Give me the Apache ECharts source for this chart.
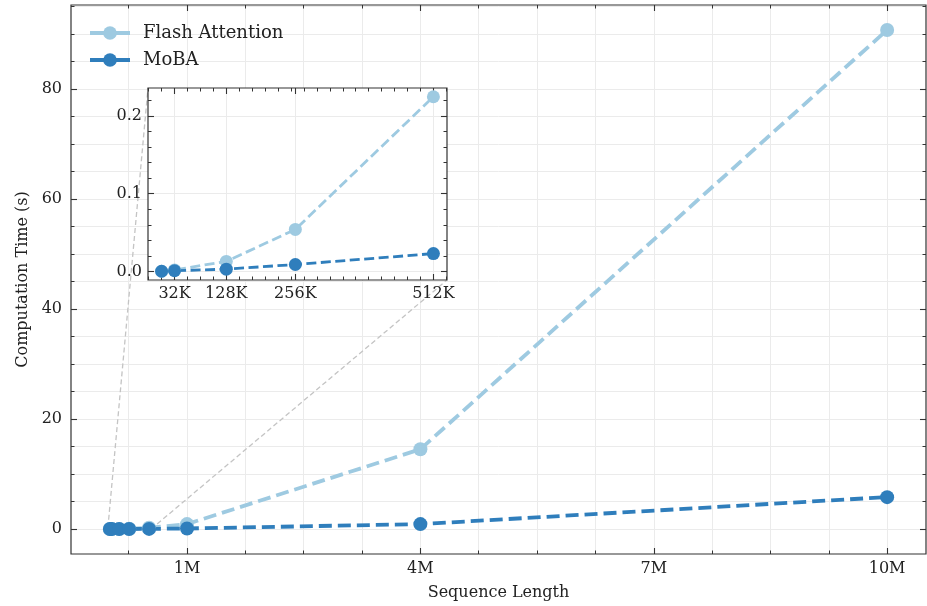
<!DOCTYPE html>
<html>
<head>
<meta charset="utf-8">
<script src="https://cdn.jsdelivr.net/npm/echarts@6/dist/echarts.min.js"></script>
<style>
  html, body { margin: 0; padding: 0; background: #fff; }
  #chart { width: 927px; height: 606px; }
</style>
</head>
<body>
<div id="chart"></div>
<script>
// data
var seqLen = [8e3, 32e3, 128e3, 256e3, 512e3, 1e6, 4e6, 10e6];
var flashTime = [0.0003, 0.002, 0.013, 0.054, 0.2245, 0.9, 14.5, 90.7];
var mobaTime = [0.0003, 0.001, 0.003, 0.009, 0.023, 0.1, 0.9, 5.8];
var insetCount = 5; // inset shows 8K .. 512K

// tick labels
var mainXTicks = [1e6, 4e6, 7e6, 10e6];
var mainXLabels = ['1M', '4M', '7M', '10M'];
var mainYTicks = [0, 20, 40, 60, 80];
var mainYLabels = ['0', '20', '40', '60', '80'];
var insetXTicks = [32e3, 128e3, 256e3, 512e3];
var insetXLabels = ['32K', '128K', '256K', '512K'];
var insetYTicks = [0, 0.1, 0.2];
var insetYLabels = ['0.0', '0.1', '0.2'];

var FONT = 'DejaVu Serif';
var flashColor = '#9ecae1';
var mobaColor = '#2f7ebc';

function pairs(xs, ys, n) {
    var out = [];
    for (var i = 0; i < n; i++) out.push([xs[i], ys[i]]);
    return out;
}

// padded range like matplotlib's 5% margins
function padRange(vals) {
    var lo = Math.min.apply(null, vals), hi = Math.max.apply(null, vals);
    var m = (hi - lo) * 0.05;
    return [lo - m, hi + m];
}

// minor tick values: every step from start, inside [min,max]
function stepTicks(start, step, min, max) {
    var out = [];
    var k = Math.ceil((min - start) / step);
    for (var v = start + k * step; v <= max + 1e-9; v += step) out.push(+v.toPrecision(10));
    return out;
}

function labelFor(ticks, labels) {
    return function (v) {
        for (var i = 0; i < ticks.length; i++) {
            if (Math.abs(ticks[i] - v) < 1e-9 * Math.max(1, Math.abs(v))) return labels[i];
        }
        return '';
    };
}

// four axes per dim: major+minor on both sides (box style, ticks inward)
function axisSet(dim, gridIndex, range, majors, minors, fmt, opts) {
    var sides = dim === 'x' ? ['bottom', 'top'] : ['left', 'right'];
    var list = [];
    sides.forEach(function (side, s) {
        list.push({
            type: 'value', gridIndex: gridIndex, position: side,
            min: range[0], max: range[1], z: opts.z,
            name: s === 0 ? opts.name : '',
            nameLocation: 'middle', nameGap: opts.nameGap,
            nameTextStyle: {fontFamily: FONT, fontSize: 16, color: '#222'},
            axisLine: {show: false, onZero: false},
            axisTick: {show: true, inside: true, length: 6, customValues: majors,
                lineStyle: {color: '#333', width: 1.1}},
            axisLabel: {show: s === 0, customValues: majors, formatter: fmt,
                margin: opts.margin, fontFamily: FONT, fontSize: 16, color: '#222'},
            splitLine: {show: s === 0 && !opts.minorGrid,
                lineStyle: {color: '#ebebeb', width: 1}}
        });
        list.push({
            type: 'value', gridIndex: gridIndex, position: side,
            min: range[0], max: range[1], z: opts.z,
            axisLine: {show: false, onZero: false},
            axisTick: {show: true, inside: true, length: 3.5, customValues: minors,
                lineStyle: {color: '#333', width: 1}},
            axisLabel: {show: false},
            splitLine: {show: s === 0 && opts.minorGrid,
                lineStyle: {color: '#ebebeb', width: 1}}
        });
    });
    return list;
}

var allY = flashTime.concat(mobaTime);
var mainXR = padRange(seqLen);
var mainYR = padRange(allY);
var insetXR = padRange(seqLen.slice(0, insetCount));
var insetYR = padRange(flashTime.slice(0, insetCount).concat(mobaTime.slice(0, insetCount)));

var mainXMinor = stepTicks(1e6, 0.75e6, mainXR[0], mainXR[1]);
var mainYMinor = stepTicks(0, 5, mainYR[0], mainYR[1]);
var insetXMinor = stepTicks(32e3, 24e3, insetXR[0], insetXR[1]);
var insetYMinor = stepTicks(0, 0.02, insetYR[0], insetYR[1]);

var xAxes = axisSet('x', 0, mainXR, mainXTicks, mainXMinor, labelFor(mainXTicks, mainXLabels),
    {z: 1, name: 'Sequence Length', nameGap: 31, margin: 7, minorGrid: true})
    .concat(axisSet('x', 1, insetXR, insetXTicks, insetXMinor, labelFor(insetXTicks, insetXLabels),
    {z: 6, name: '', nameGap: 20, margin: 6, minorGrid: false}));
var yAxes = axisSet('y', 0, mainYR, mainYTicks, mainYMinor, labelFor(mainYTicks, mainYLabels),
    {z: 1, name: 'Computation Time (s)', nameGap: 38, margin: 9, minorGrid: true})
    .concat(axisSet('y', 1, insetYR, insetYTicks, insetYMinor, labelFor(insetYTicks, insetYLabels),
    {z: 6, name: '', nameGap: 20, margin: 6, minorGrid: false}));

function lineSeries(name, color, data, xi, yi, big) {
    return {
        name: name, type: 'line', xAxisIndex: xi, yAxisIndex: yi,
        data: data, color: color, symbol: 'circle',
        symbolSize: big ? 14 : 13, z: big ? 3 : 8,
        lineStyle: {width: big ? 3.8 : 2.8, type: big ? [13, 6] : [10, 4.5], color: color},
        itemStyle: {color: color},
        emphasis: {disabled: true},
        animation: false
    };
}

var option = {
    animation: false,
    backgroundColor: '#fff',
    grid: [
        {left: 71, right: 1, top: 5, bottom: 52, show: true, borderColor: '#333', borderWidth: 1.2,
            backgroundColor: 'transparent', z: 0},
        {left: 148, right: 480, top: 88, bottom: 326, show: true, borderColor: '#333', borderWidth: 1.2,
            backgroundColor: '#fff', z: 5}
    ],
    legend: {
        orient: 'vertical', left: 83, top: 19, itemWidth: 40, itemHeight: 17, itemGap: 9,
        data: ['Flash Attention', 'MoBA'],
        lineStyle: {type: 'solid', width: 4},
        textStyle: {fontFamily: FONT, fontSize: 18, color: '#222', padding: [0, 0, 0, 8]}
    },
    xAxis: xAxes,
    yAxis: yAxes,
    series: [
        lineSeries('Flash Attention', flashColor, pairs(seqLen, flashTime, seqLen.length), 0, 0, true),
        lineSeries('MoBA', mobaColor, pairs(seqLen, mobaTime, seqLen.length), 0, 0, true),
        lineSeries('Flash Attention', flashColor, pairs(seqLen, flashTime, insetCount), 4, 4, false),
        lineSeries('MoBA', mobaColor, pairs(seqLen, mobaTime, insetCount), 4, 4, false)
    ]
};

var mychart = echarts.init(document.getElementById('chart'), null, {renderer: 'canvas'});
mychart.setOption(option);

// inset marker: zoom box in main plot + two connectors to inset corners
var mainFinder = {xAxisIndex: 0, yAxisIndex: 0};
var insetFinder = {xAxisIndex: 4, yAxisIndex: 4};
var boxTL = mychart.convertToPixel(mainFinder, [insetXR[0], insetYR[1]]);
var boxBR = mychart.convertToPixel(mainFinder, [insetXR[1], insetYR[0]]);
var insTL = mychart.convertToPixel(insetFinder, [insetXR[0], insetYR[1]]);
var insBR = mychart.convertToPixel(insetFinder, [insetXR[1], insetYR[0]]);
var connStyle = {stroke: '#c4c4c4', lineWidth: 1.3, lineDash: [5, 3]};

mychart.setOption({
    graphic: [
        {type: 'line', z: 2, silent: true, shape: {x1: boxTL[0], y1: boxTL[1], x2: insTL[0], y2: insTL[1]}, style: connStyle},
        {type: 'line', z: 2, silent: true, shape: {x1: boxBR[0], y1: boxBR[1], x2: insBR[0], y2: insBR[1]}, style: connStyle},
        {type: 'rect', z: 2, silent: true,
            shape: {x: boxTL[0], y: boxTL[1], width: boxBR[0] - boxTL[0], height: boxBR[1] - boxTL[1]},
            style: {fill: null, stroke: '#c4c4c4', lineWidth: 1}}
    ]
});
</script>
</body>
</html>
